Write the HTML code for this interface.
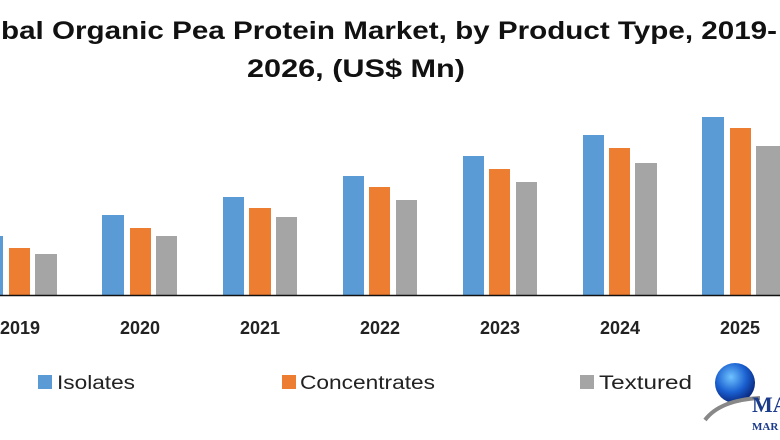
<!DOCTYPE html>
<html><head><meta charset="utf-8"><style>
html,body{margin:0;padding:0;background:#fff;width:780px;height:440px;overflow:hidden}
</style></head><body>
<svg width="780" height="440" xmlns="http://www.w3.org/2000/svg" font-family="Liberation Sans, DejaVu Sans, sans-serif">
<text x="1" y="39" font-size="25" font-weight="bold" fill="#111" textLength="776" lengthAdjust="spacingAndGlyphs">bal Organic Pea Protein Market, by Product Type, 2019-</text>
<text x="247" y="77" font-size="25" font-weight="bold" fill="#111" textLength="218" lengthAdjust="spacingAndGlyphs">2026, (US$ Mn)</text>
<g fill="#5b9bd5">
<rect x="-18" y="236" width="21" height="59"/>
<rect x="102" y="215" width="22" height="80"/>
<rect x="223" y="197" width="21" height="98"/>
<rect x="343" y="176" width="21" height="119"/>
<rect x="463" y="156" width="21" height="139"/>
<rect x="583" y="135" width="21" height="160"/>
<rect x="702" y="117" width="22" height="178"/>
</g>
<g fill="#ed7d31">
<rect x="9" y="248" width="21" height="47"/>
<rect x="130" y="228" width="21" height="67"/>
<rect x="249" y="208" width="22" height="87"/>
<rect x="369" y="187" width="21" height="108"/>
<rect x="489" y="169" width="21" height="126"/>
<rect x="609" y="148" width="21" height="147"/>
<rect x="730" y="128" width="21" height="167"/>
</g>
<g fill="#a5a5a5">
<rect x="35" y="254" width="22" height="41"/>
<rect x="156" y="236" width="21" height="59"/>
<rect x="276" y="217" width="21" height="78"/>
<rect x="396" y="200" width="21" height="95"/>
<rect x="516" y="182" width="21" height="113"/>
<rect x="635" y="163" width="22" height="132"/>
<rect x="756" y="146" width="24" height="149"/>
</g>
<line x1="0" y1="295.5" x2="780" y2="295.5" stroke="#111" stroke-width="1.5"/>
<g font-size="18" font-weight="bold" fill="#222" text-anchor="middle">
<text x="20" y="334">2019</text>
<text x="140" y="334">2020</text>
<text x="260" y="334">2021</text>
<text x="380" y="334">2022</text>
<text x="500" y="334">2023</text>
<text x="620" y="334">2024</text>
<text x="740" y="334">2025</text>
</g>
<g font-size="19" fill="#222">
<rect x="38" y="375" width="14" height="14" fill="#5b9bd5"/>
<text x="57" y="389" textLength="78" lengthAdjust="spacingAndGlyphs">Isolates</text>
<rect x="282" y="375" width="14" height="14" fill="#ed7d31"/>
<text x="300" y="389" textLength="135" lengthAdjust="spacingAndGlyphs">Concentrates</text>
<rect x="580" y="375" width="14" height="14" fill="#a5a5a5"/>
<text x="599" y="389" textLength="93" lengthAdjust="spacingAndGlyphs">Textured</text>
</g>
<defs><radialGradient id="g" cx="40%" cy="35%" r="65%"><stop offset="0" stop-color="#6fc3ff"/><stop offset="0.6" stop-color="#1a5fd0"/><stop offset="1" stop-color="#0a2a80"/></radialGradient></defs>
<circle cx="735" cy="383" r="20" fill="url(#g)"/>
<path d="M705 420 Q720 400 760 398" stroke="#888" stroke-width="4" fill="none"/>
<text x="752" y="412" font-family="Liberation Serif, serif" font-size="22" font-weight="bold" fill="#1a3a8a">MA</text>
<text x="752" y="430" font-family="Liberation Serif, serif" font-size="11" font-weight="bold" fill="#1a3a8a">MAR</text>
</svg>
</body></html>
